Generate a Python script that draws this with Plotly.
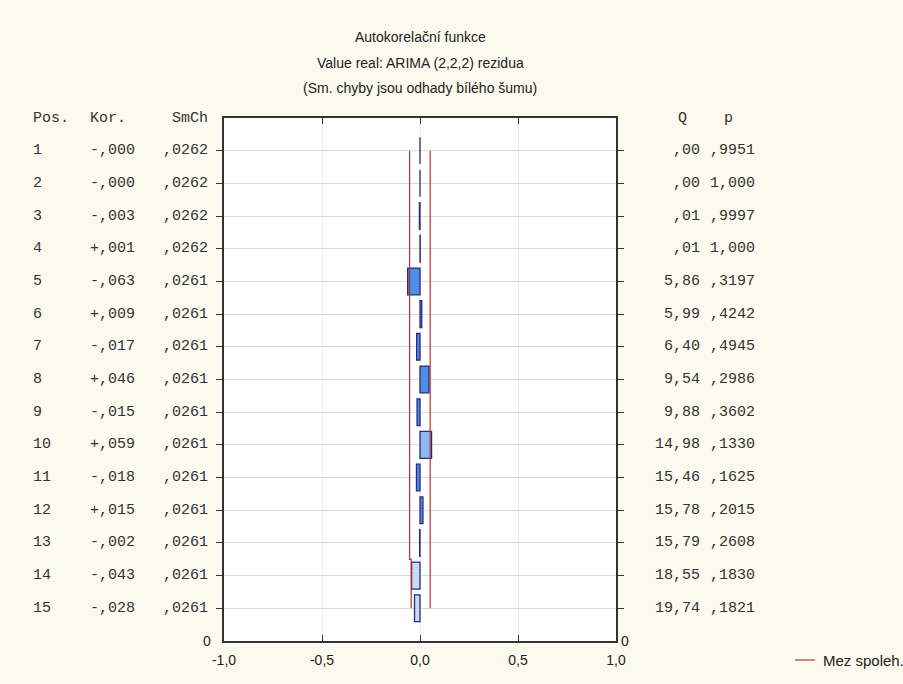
import math
import plotly.graph_objects as go

# ---- data ----
lags = [1, 2, 3, 4, 5, 6, 7, 8, 9, 10, 11, 12, 13, 14, 15]
kor = [-0.000, -0.000, -0.003, 0.001, -0.063, 0.009, -0.017, 0.046,
       -0.015, 0.059, -0.018, 0.015, -0.002, -0.043, -0.028]
smch = [0.0262, 0.0262, 0.0262, 0.0262, 0.0261, 0.0261, 0.0261, 0.0261,
        0.0261, 0.0261, 0.0261, 0.0261, 0.0261, 0.0261, 0.0261]
q_stat = [0.00, 0.00, 0.01, 0.01, 5.86, 5.99, 6.40, 9.54, 9.88, 14.98,
          15.46, 15.78, 15.79, 18.55, 19.74]
p_val = [0.9951, 1.000, 0.9997, 1.000, 0.3197, 0.4242, 0.4945, 0.2986,
         0.3602, 0.1330, 0.1625, 0.2015, 0.2608, 0.1830, 0.1821]
# confidence limits (Mez spoleh.)
conf_low = [-0.053, -0.053, -0.053, -0.053, -0.053, -0.053, -0.053, -0.053,
            -0.053, -0.053, -0.053, -0.053, -0.053, -0.045, -0.045]
conf_high = [0.052, 0.052, 0.052, 0.052, 0.052, 0.052, 0.052, 0.052,
             0.052, 0.052, 0.052, 0.052, 0.052, 0.052, 0.052]
x_ticks = [-1.0, -0.5, 0.0, 0.5, 1.0]
x_ticktext = ["-1,0", "-0,5", "0,0", "0,5", "1,0"]
title_lines = ["Autokorelační funkce",
               "Value real: ARIMA (2,2,2) rezidua",
               "(Sm. chyby jsou odhady bílého šumu)"]


def fmt_kor(v):
    s = "-" if math.copysign(1.0, v) < 0 else "+"
    return s + ",%03d" % round(abs(v) * 1000)


def fmt_frac(v, nd):
    s = ("%." + str(nd) + "f") % v
    if s.startswith("0."):
        s = s[1:]
    return s.replace(".", ",")


bar_fill = []
for i, v in enumerate(kor):
    if lags[i] >= 13:
        bar_fill.append("#c6dcf6")
    elif lags[i] == 10:
        bar_fill.append("#8db8f0")
    else:
        bar_fill.append("#4d8fe6")

W, H = 903, 684
L, R, T, B = 224, 616, 118, 641
pw, ph = R - L, B - T


def px(X):
    return (X - L) / pw


def py(Y):
    return (B - Y) / ph


fig = go.Figure()
fig.add_trace(go.Bar(
    x=kor, y=lags, orientation="h", width=0.82,
    marker=dict(color=bar_fill, line=dict(color="#2a2a80", width=1.3)),
    showlegend=False, hoverinfo="skip"))
red = "#b8312f"
fig.add_trace(go.Scatter(x=conf_low, y=lags, mode="lines",
                         line=dict(color=red, width=1.2, shape="vhv"),
                         showlegend=False, hoverinfo="skip"))
fig.add_trace(go.Scatter(x=conf_high, y=lags, mode="lines",
                         line=dict(color=red, width=1.2, shape="vhv"),
                         showlegend=False, hoverinfo="skip"))

mono = dict(family="Liberation Mono, monospace", size=15, color="#333333")
sans = dict(family="Liberation Sans, Arial, sans-serif", size=14, color="#222222")

ann = []
# headers
ann.append(dict(x=px(31), y=0, text="Pos.", xanchor="left"))
ann.append(dict(x=px(88), y=0, text="Kor.", xanchor="left"))
ann.append(dict(x=px(210), y=0, text="SmCh", xanchor="right"))
ann.append(dict(x=px(676), y=0, text="Q", xanchor="left"))
ann.append(dict(x=px(722), y=0, text="p", xanchor="left"))
for i, lag in enumerate(lags):
    ann.append(dict(x=px(31), y=lag, text=str(lag), xanchor="left"))
    ann.append(dict(x=px(88), y=lag, text=fmt_kor(kor[i]), xanchor="left"))
    ann.append(dict(x=px(210), y=lag, text=fmt_frac(smch[i], 4), xanchor="right"))
    ann.append(dict(x=px(702), y=lag, text=fmt_frac(q_stat[i], 2), xanchor="right"))
    ann.append(dict(x=px(708), y=lag,
                    text=("1,000" if p_val[i] >= 1 else fmt_frac(p_val[i], 4)),
                    xanchor="left"))
annotations = []
for a in ann:
    a.update(xref="paper", yref="y", yanchor="middle", showarrow=False, font=mono)
    annotations.append(a)
# bottom zero labels
annotations.append(dict(x=px(213), y=16, xref="paper", yref="y", text="0",
                        xanchor="right", yanchor="middle", showarrow=False, font=sans))
annotations.append(dict(x=px(619), y=16, xref="paper", yref="y", text="0",
                        xanchor="left", yanchor="middle", showarrow=False, font=sans))
# title lines
for txt, Y in zip(title_lines, [37, 63, 88]):
    annotations.append(dict(x=0.5, y=py(Y), xref="paper", yref="paper", text=txt,
                            xanchor="center", yanchor="middle", showarrow=False,
                            font=sans))
# legend
annotations.append(dict(x=px(821), y=py(660), xref="paper", yref="paper",
                        text="Mez spoleh.", xanchor="left", yanchor="middle",
                        showarrow=False,
                        font=dict(family="Liberation Sans, Arial, sans-serif",
                                  size=15, color="#222222")))

fig.update_layout(
    width=W, height=H,
    margin=dict(l=L, r=W - R, t=T, b=H - B, pad=0),
    paper_bgcolor="#fcf9ee", plot_bgcolor="#ffffff",
    bargap=0.18, showlegend=False,
    annotations=annotations,
    shapes=[dict(type="line", xref="paper", yref="paper",
                 x0=px(795), x1=px(815), y0=py(660), y1=py(660),
                 line=dict(color=red, width=1.2))],
    xaxis=dict(range=[-1, 1], tickvals=x_ticks, ticktext=x_ticktext,
               ticks="inside", ticklen=6, tickcolor="#333333",
               showline=True, linecolor="#333333", linewidth=1.5, mirror="ticks",
               showgrid=True, gridcolor="#eceef3", gridwidth=1,
               zeroline=False, tickfont=sans, ticklabelstandoff=5,
               fixedrange=True),
    yaxis=dict(range=[16, 0], tickvals=lags, ticktext=[""] * len(lags),
               ticks="outside", ticklen=6, tickcolor="#333333",
               showline=True, linecolor="#333333", linewidth=1.5, mirror="ticks",
               showgrid=True, gridcolor="#dadada", gridwidth=1,
               zeroline=False, fixedrange=True),
)

fig.write_html("out.html")
